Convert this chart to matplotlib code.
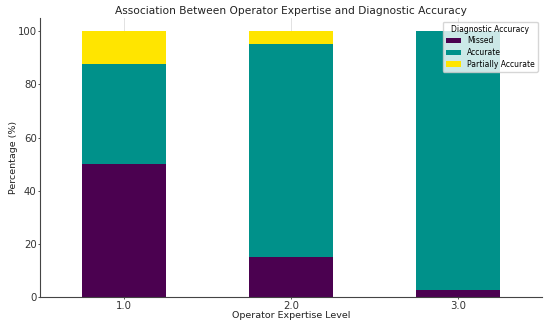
import matplotlib
matplotlib.use("Agg")
import matplotlib.pyplot as plt
import numpy as np

levels = ["1.0", "2.0", "3.0"]
missed = [50.0, 15.0, 2.5]
accurate = [37.5, 80.0, 97.5]
partial = [12.5, 5.0, 0.0]
series_names = ["Missed", "Accurate", "Partially Accurate"]
colors = ["#4b0150", "#00918a", "#ffe500"]

fig, ax = plt.subplots(figsize=(5.5, 3.25), dpi=100)
x = np.arange(len(levels))
bottom = np.zeros(len(levels))
for vals, name, c in zip([missed, accurate, partial], series_names, colors):
    ax.bar(x, vals, width=0.5, bottom=bottom, color=c, label=name, zorder=2)
    bottom += np.array(vals)

ax.set_xticks(x)
ax.set_xticklabels(levels)
ax.set_xlim(-0.5, 2.5)
ax.set_ylim(0, 105)
ax.grid(axis="x", color="#dddddd", linewidth=0.6, zorder=3)
ax.grid(axis="y", visible=False)
for s in ["top", "right"]:
    ax.spines[s].set_visible(False)
for s in ["left", "bottom"]:
    ax.spines[s].set_color("#444444")
    ax.spines[s].set_linewidth(0.8)
ax.tick_params(labelsize=7.3, colors="#333333", length=1.5, width=0.6, pad=1.0)
ax.set_xlabel("Operator Expertise Level", fontsize=6.8, color="#222222")
ax.set_ylabel("Percentage (%)", fontsize=6.8, color="#222222")
ax.xaxis.set_label_coords(0.5, -0.05)
ax.yaxis.set_label_coords(-0.045, 0.5)
ax.set_title("Association Between Operator Expertise and Diagnostic Accuracy", fontsize=7.7,
             color="#222222", pad=2.5)
leg = ax.legend(title="Diagnostic Accuracy", fontsize=5.5, title_fontsize=5.5, loc="upper right",
                framealpha=0.8, borderaxespad=0.5, handlelength=2.0, labelspacing=0.35)
fig.subplots_adjust(left=0.073, right=0.985, bottom=0.086, top=0.945)
fig.savefig("out.png", dpi=100)
